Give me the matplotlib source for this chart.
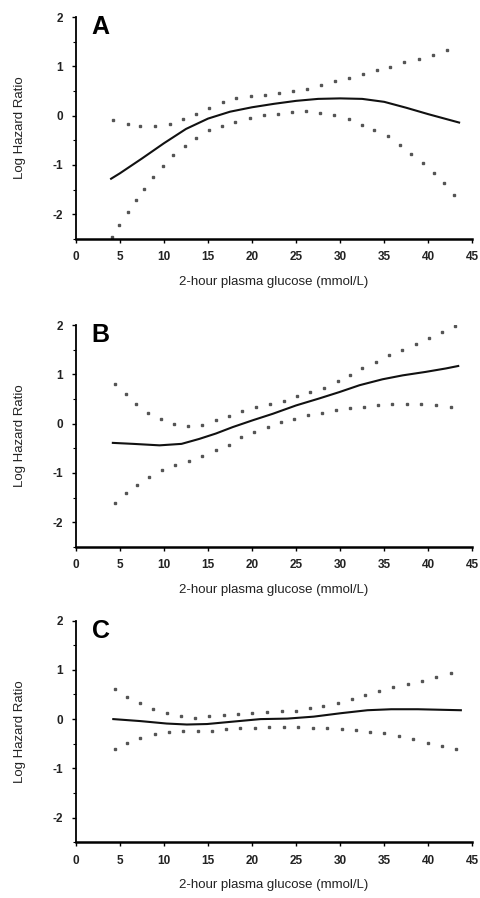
import matplotlib
matplotlib.use("Agg")
from matplotlib import pyplot as plt
from matplotlib.ticker import MultipleLocator

plt.rcParams['font.family'] = ['Liberation Sans', 'DejaVu Sans']
plt.rcParams['axes.unicode_minus'] = False

# Panel A
a_fit_x = [4.0, 5, 7.5, 10, 12.5, 15, 17.5, 20, 22.5, 25, 27.5, 30, 32.5, 35, 37.5, 40, 43.5]
a_fit_y = [-1.28, -1.17, -0.87, -0.56, -0.27, -0.06, 0.08, 0.17, 0.24, 0.30, 0.34, 0.35, 0.34, 0.28, 0.16, 0.03, -0.14]
a_up_x = [4.25, 5.89, 7.29, 9.0, 10.71, 12.15, 13.67, 15.08, 16.71, 18.19, 19.83, 21.46, 23.05,
          24.65, 26.2, 27.8, 29.43, 31.03, 32.55, 34.14, 35.7, 37.3, 38.93, 40.52, 42.12]
a_up_y = [-0.09, -0.16, -0.20, -0.20, -0.16, -0.07, 0.04, 0.16, 0.27, 0.35, 0.39, 0.41, 0.46,
          0.50, 0.55, 0.62, 0.71, 0.77, 0.84, 0.93, 0.99, 1.08, 1.15, 1.24, 1.34]
a_lo_x = [4.06, 4.9, 5.89, 6.84, 7.79, 8.81, 9.84, 10.98, 12.34, 13.67, 15.08, 16.6, 18.12, 19.75,
          21.34, 22.98, 24.5, 26.09, 27.72, 29.32, 30.95, 32.43, 33.88, 35.4, 36.8, 38.05, 39.38,
          40.6, 41.74, 42.88]
a_lo_y = [-2.47, -2.22, -1.95, -1.71, -1.48, -1.24, -1.03, -0.80, -0.62, -0.45, -0.29, -0.20, -0.12,
          -0.05, 0.01, 0.04, 0.07, 0.10, 0.06, 0.01, -0.07, -0.18, -0.29, -0.41, -0.60, -0.78, -0.97,
          -1.16, -1.37, -1.61]

# Panel B
b_fit_x = [4.2, 6.5, 9.5, 12, 14.0, 15.9, 17.8, 20.1, 22.35, 25, 27.6, 29.9, 32.2, 34.8, 37.1, 39.7, 42, 43.4]
b_fit_y = [-0.39, -0.41, -0.44, -0.41, -0.31, -0.20, -0.07, 0.07, 0.20, 0.37, 0.51, 0.64, 0.78, 0.90, 0.98, 1.05, 1.12, 1.17]
b_up_x = [4.42, 5.66, 6.87, 8.19, 9.63, 11.1, 12.72, 14.31, 15.86, 17.37, 18.88, 20.46, 22.05, 23.6,
          25.1, 26.6, 28.2, 29.7, 31.1, 32.5, 34.05, 35.56, 37.07, 38.58, 40.09, 41.52, 43.03]
b_up_y = [0.81, 0.60, 0.39, 0.22, 0.09, -0.01, -0.05, -0.02, 0.07, 0.15, 0.25, 0.33, 0.39, 0.46,
          0.56, 0.64, 0.73, 0.86, 0.98, 1.13, 1.25, 1.39, 1.49, 1.61, 1.73, 1.85, 1.99]
b_lo_x = [4.42, 5.66, 6.98, 8.3, 9.78, 11.29, 12.8, 14.31, 15.86, 17.37, 18.76, 20.27, 21.78, 23.29,
          24.8, 26.39, 27.94, 29.52, 31.1, 32.73, 34.35, 35.94, 37.56, 39.22, 40.85, 42.54]
b_lo_y = [-1.61, -1.41, -1.24, -1.08, -0.95, -0.83, -0.75, -0.66, -0.54, -0.43, -0.28, -0.17, -0.07, 0.03,
          0.10, 0.18, 0.22, 0.27, 0.31, 0.34, 0.37, 0.39, 0.39, 0.39, 0.37, 0.34]

# Panel C
c_fit_x = [4.25, 7.3, 10.3, 12.6, 14.9, 17.9, 20.96, 24, 27, 30.1, 33.1, 35.8, 38.8, 43.7]
c_fit_y = [0.0, -0.04, -0.09, -0.11, -0.10, -0.05, 0.0, 0.01, 0.05, 0.12, 0.18, 0.20, 0.20, 0.18]
c_up_x = [4.44, 5.85, 7.29, 8.74, 10.33, 11.93, 13.56, 15.15, 16.79, 18.38, 20.0, 21.65, 23.36,
          24.95, 26.55, 28.1, 29.78, 31.33, 32.85, 34.45, 36.04, 37.68, 39.27, 40.9, 42.54]
c_up_y = [0.61, 0.44, 0.32, 0.20, 0.12, 0.06, 0.03, 0.06, 0.08, 0.10, 0.13, 0.14, 0.16,
          0.17, 0.22, 0.27, 0.33, 0.40, 0.48, 0.56, 0.65, 0.71, 0.78, 0.85, 0.93]
c_lo_x = [4.44, 5.85, 7.29, 8.93, 10.52, 12.15, 13.82, 15.46, 17.05, 18.61, 20.28, 21.91, 23.62,
          25.26, 26.93, 28.56, 30.16, 31.79, 33.42, 35.02, 36.65, 38.32, 39.95, 41.59, 43.18]
c_lo_y = [-0.61, -0.48, -0.38, -0.31, -0.26, -0.24, -0.24, -0.24, -0.21, -0.19, -0.18, -0.16, -0.16,
          -0.17, -0.18, -0.19, -0.21, -0.22, -0.26, -0.29, -0.34, -0.41, -0.48, -0.54, -0.60]

panels = [
    ("A", a_fit_x, a_fit_y, a_up_x, a_up_y, a_lo_x, a_lo_y, 0.734),
    ("B", b_fit_x, b_fit_y, b_up_x, b_up_y, b_lo_x, b_lo_y, 0.391),
    ("C", c_fit_x, c_fit_y, c_up_x, c_up_y, c_lo_x, c_lo_y, 0.062),
]

fig = plt.figure(dpi=100, figsize=(4.8, 8.98))

for letter, fx, fy, ux, uy, lx, ly, bottom in panels:
    ax = fig.add_axes([0.158, bottom, 0.826, 0.247])
    ax.plot(fx, fy, c="#111111", lw=1.5)
    ax.plot(ux, uy, ls="none", marker="s", ms=1.8, c="#555555")
    ax.plot(lx, ly, ls="none", marker="s", ms=1.8, c="#555555")

    ax.set_xlim(0, 45)
    ax.set_ylim(-2.5, 2.0)
    ax.spines["top"].set_visible(False)
    ax.spines["right"].set_visible(False)
    ax.spines["left"].set_linewidth(1.3)
    ax.spines["bottom"].set_linewidth(1.8)
    ax.xaxis.set_major_locator(MultipleLocator(5))
    ax.yaxis.set_major_locator(MultipleLocator(1))
    ax.yaxis.set_minor_locator(MultipleLocator(0.5))
    ax.tick_params(axis="both", which="major", labelsize=8.5, length=3, width=1, pad=6)
    ax.tick_params(axis="y", which="minor", length=2, width=0.8)
    for lab in ax.get_xticklabels() + ax.get_yticklabels():
        lab.set_fontweight("bold")
        lab.set_color("#222222")

    ax.set_xlabel("2-hour plasma glucose (mmol/L)", fontsize=9.5, labelpad=9, color="#222222")
    ax.set_ylabel("Log Hazard Ratio", fontsize=9.5, labelpad=19, color="#222222")
    ax.text(1.8, 1.55, letter, fontsize=18, fontweight="bold", va="bottom", ha="left")

fig.savefig("out.png", dpi=100)
